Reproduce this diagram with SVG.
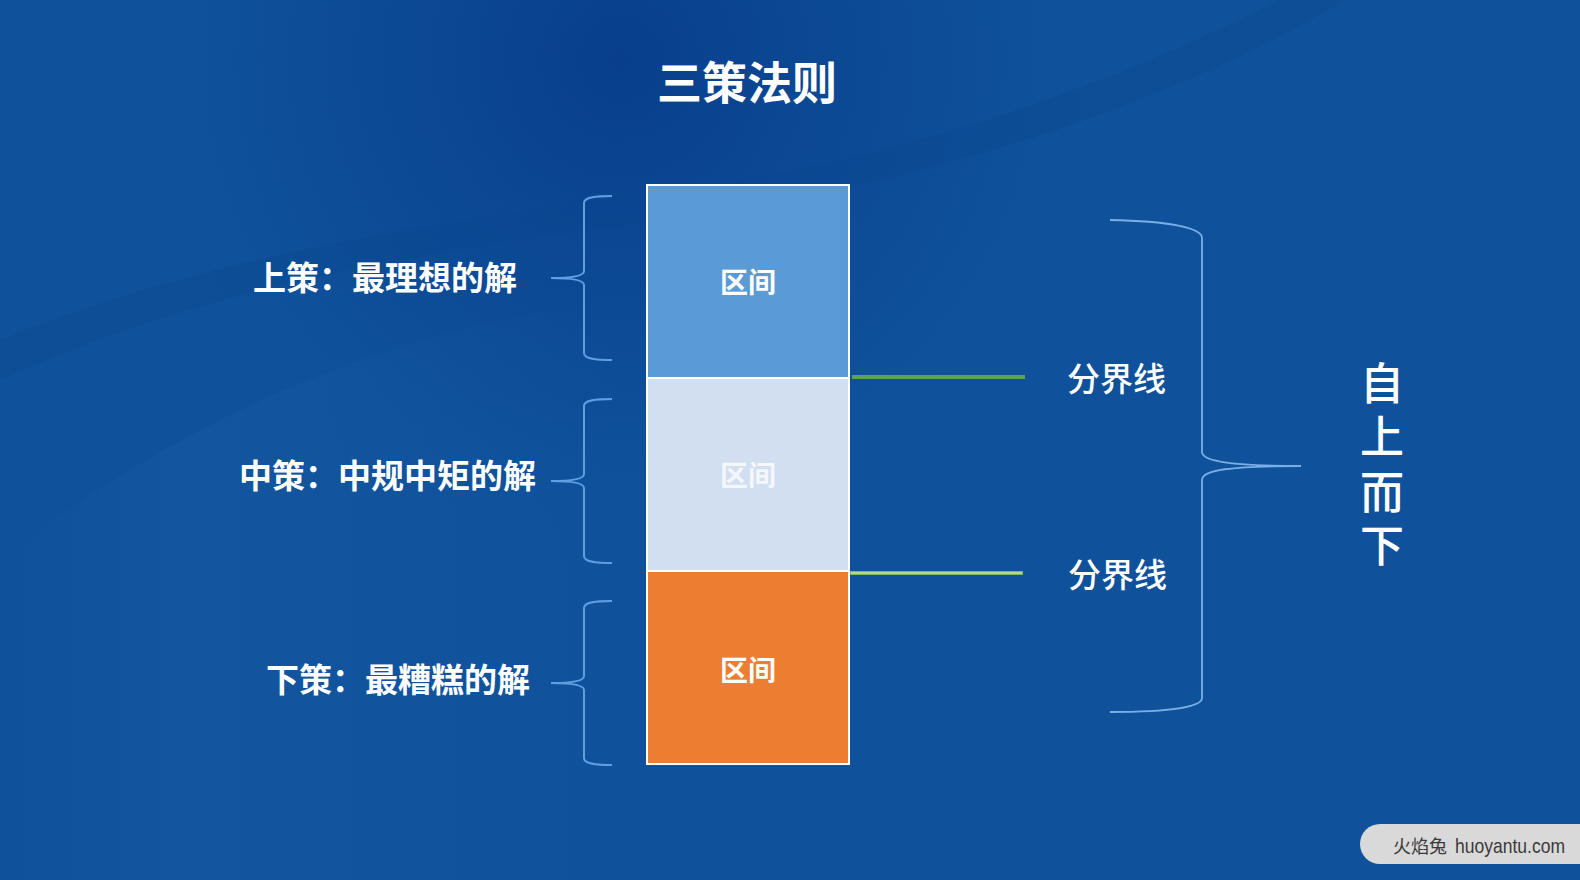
<svg xmlns="http://www.w3.org/2000/svg" width="1580" height="880" viewBox="0 0 1580 880">
  <defs>
    <radialGradient id="darkTop" cx="620" cy="60" r="520" gradientUnits="userSpaceOnUse">
      <stop offset="0" stop-color="#083d8c" stop-opacity="0.95"/>
      <stop offset="0.6" stop-color="#0b4592" stop-opacity="0.45"/>
      <stop offset="1" stop-color="#0f529b" stop-opacity="0"/>
    </radialGradient>
    <linearGradient id="wave" x1="0" y1="0" x2="1" y2="0">
      <stop offset="0" stop-color="#2a6cb4" stop-opacity="0.0"/>
      <stop offset="0.3" stop-color="#2a6cb4" stop-opacity="0.15"/>
      <stop offset="1" stop-color="#2a6cb4" stop-opacity="0"/>
    </linearGradient>
    <style>
      .lbl { font-family: "Liberation Serif", "Noto Sans CJK SC", serif; font-weight: 700; font-size: 33px; fill: #ffffff; }
      .brace { fill: none; stroke: #5f9ee0; stroke-width: 2; }
      .bigbrace { fill: none; stroke: #7aaee6; stroke-width: 1.8; }
      .box { stroke: #ffffff; stroke-width: 2; }
      .boxtxt { font-family: "Liberation Serif", "Noto Sans CJK SC", serif; font-weight: 700; font-size: 28px; text-anchor: middle; }
      .div { font-family: "Liberation Serif", "Noto Sans CJK SC", serif; font-weight: 500; font-size: 33px; fill: #ffffff; }
      .vert { font-family: "Liberation Serif", "Noto Sans CJK SC", serif; font-weight: 500; font-size: 44px; fill: #ffffff; text-anchor: middle; }
    </style>
  </defs>

  <!-- background -->
  <rect x="0" y="0" width="1580" height="880" fill="#0f529b"/>
  <rect x="0" y="0" width="1580" height="880" fill="url(#darkTop)"/>
  <path d="M0,380 C220,280 440,250 660,220 C920,185 1160,110 1345,0 L1280,0 C1100,90 900,160 680,190 C460,220 220,250 0,340 Z" fill="#0a4590" opacity="0.3"/>
  <path d="M0,560 C180,420 380,330 620,300 L620,880 L0,880 Z" fill="url(#wave)"/>

  <!-- title -->
  <text id="title" x="747" y="100" text-anchor="middle" font-family="'Noto Sans CJK SC', 'Noto Sans', sans-serif" font-weight="700" font-size="45" fill="#ffffff">三策法则</text>

  <!-- column of intervals -->
  <g id="box-top">
    <rect class="box" x="647" y="185" width="202" height="193" fill="#5b9bd5"/>
    <text class="boxtxt" x="748" y="293" fill="#ffffff">区间</text>
  </g>
  <g id="box-middle">
    <rect class="box" x="647" y="378" width="202" height="193" fill="#d1dff0"/>
    <text class="boxtxt" x="748" y="486" fill="#f4f7fc">区间</text>
  </g>
  <g id="box-bottom">
    <rect class="box" x="647" y="571" width="202" height="193" fill="#ed7d31"/>
    <text class="boxtxt" x="748" y="681" fill="#ffffff">区间</text>
  </g>

  <!-- left labels -->
  <g id="label-top"><text class="lbl" x="253" y="290">上策：最理想的解</text></g>
  <g id="label-middle"><text class="lbl" x="239" y="488">中策：中规中矩的解</text></g>
  <g id="label-bottom"><text class="lbl" x="266" y="692">下策：最糟糕的解</text></g>

  <!-- divider labels -->
  <g id="divider-1"><text class="div" x="1067" y="391">分界线</text></g>
  <g id="divider-2"><text class="div" x="1068" y="587">分界线</text></g>

  <!-- vertical text -->
  <g id="top-down">
    <text class="vert" x="1382" y="400">自</text>
    <text class="vert" x="1382" y="453">上</text>
    <text class="vert" x="1382" y="509">而</text>
    <text class="vert" x="1382" y="562">下</text>
  </g>

  <!-- connectors -->
  <g id="connectors">
    <path id="brace-l" class="brace" d="M612,196 C596,196 584,197 584,203 L584,271 C584,276 572,278 551,278 M551,278 C572,278 584,280 584,285 L584,353 C584,359 596,360 612,360"/>
    <path class="brace" transform="translate(0,203)" d="M612,196 C596,196 584,197 584,203 L584,271 C584,276 572,278 551,278 M551,278 C572,278 584,280 584,285 L584,353 C584,359 596,360 612,360"/>
    <path class="brace" transform="translate(0,405)" d="M612,196 C596,196 584,197 584,203 L584,271 C584,276 572,278 551,278 M551,278 C572,278 584,280 584,285 L584,353 C584,359 596,360 612,360"/>

    <path class="bigbrace" d="M1110,220 C1170,221 1202,228 1202,238 L1202,452 C1202,461 1230,466 1301,466 M1301,466 C1230,466 1202,470 1202,480 L1202,698 C1202,707 1170,712 1110,712"/>

    <line x1="852" y1="377" x2="1025" y2="377" stroke="#5ca34b" stroke-width="4"/>
    <line x1="850" y1="573" x2="1023" y2="573" stroke="#7db95a" stroke-width="4"/>
    <line x1="851" y1="573" x2="1022" y2="573" stroke="#c6e2a2" stroke-width="1.3"/>
  </g>

  <!-- watermark -->
  <g id="watermark">
    <path d="M1380,824 L1580,824 L1580,864 L1380,864 A20,20 0 0 1 1380,824 Z" fill="#d9d9d9"/>
    <text x="1393" y="853" font-family="'Noto Sans CJK SC', sans-serif" font-size="18" fill="#3a3a3a" textLength="54" lengthAdjust="spacing">火焰兔</text>
    <text x="1455" y="853" font-family="'Liberation Sans', sans-serif" font-size="21" fill="#3a3a3a" textLength="110" lengthAdjust="spacingAndGlyphs">huoyantu.com</text>
  </g>
</svg>
